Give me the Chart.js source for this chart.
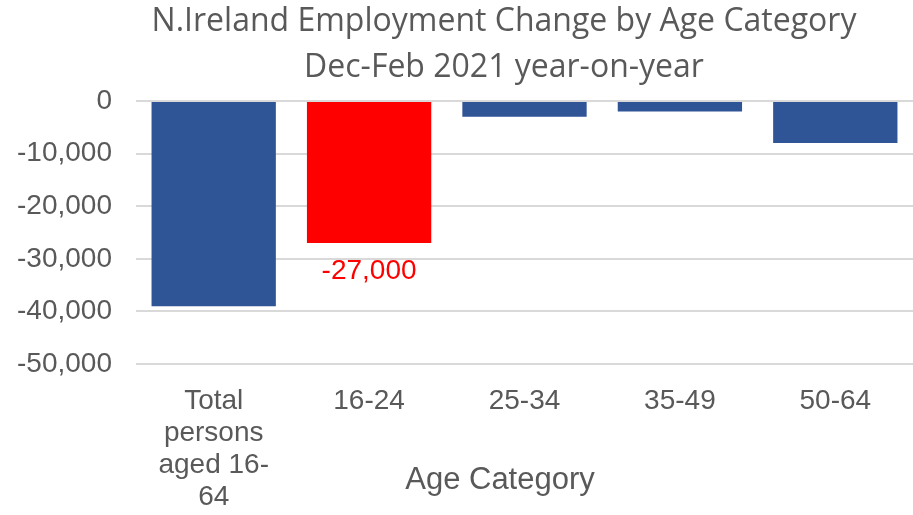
<!DOCTYPE html>
<html>
<head>
<meta charset="utf-8">
<script src="https://cdn.jsdelivr.net/npm/chart.js@4"></script>
<style>
  body { margin: 0; background: #fff; }
  #wrap { width: 913px; height: 515px; }
</style>
</head>
<body>
<div id="wrap"><canvas id="chart" width="913" height="515"></canvas></div>
<script>
const categories = [["Total", "persons", "aged 16-", "64"], "16-24", "25-34", "35-49", "50-64"];
const changeValues = [-39000, -27000, -3000, -2000, -8000];
const barColors = ["#2F5597", "#FF0000", "#2F5597", "#2F5597", "#2F5597"];
const labelledIndex = 1;
const titleLines = ["N.Ireland Employment Change by Age Category", "Dec-Feb 2021 year-on-year"];
const axisTitle = "Age Category";

const textColor = "#595959";
const sans = "'Liberation Sans', Arial, sans-serif";

// title, axis title and the single value label, placed like the excel original
const extraText = {
  id: "extraText",
  afterDraw(chart) {
    const ctx = chart.ctx;
    const area = chart.chartArea;
    ctx.save();
    ctx.textAlign = "center";
    ctx.textBaseline = "middle";

    ctx.fillStyle = textColor;
    ctx.font = "32px 'Open Sans', sans-serif";
    ctx.fillText(titleLines[0], 504, 22);
    ctx.fillText(titleLines[1], 504, 68);

    ctx.font = "31px " + sans;
    ctx.fillText(axisTitle, 500, area.bottom + 116);

    const bar = chart.getDatasetMeta(0).data[labelledIndex];
    ctx.fillStyle = "#FF0000";
    ctx.font = "28px " + sans;
    ctx.fillText(changeValues[labelledIndex].toLocaleString("en-US"), bar.x, bar.y + 28);
    ctx.restore();
  }
};

const config = {
  type: "bar",
  data: {
    labels: categories,
    datasets: [{
      data: changeValues,
      backgroundColor: barColors,
      categoryPercentage: 1,
      barPercentage: 0.8
    }]
  },
  options: {
    responsive: false,
    animation: false,
    layout: { padding: { left: 0, right: 0, top: 101, bottom: 0 } },
    plugins: {
      legend: { display: false },
      tooltip: { enabled: false },
      title: { display: false }
    },
    scales: {
      x: {
        afterFit: (scale) => { scale.height = 151; },
        grid: { display: false, drawTicks: false },
        border: { display: false },
        ticks: {
          color: textColor,
          font: { family: sans, size: 28, lineHeight: 1.15 },
          padding: 21,
          maxRotation: 0,
          autoSkip: false
        }
      },
      y: {
        min: -50000,
        max: 0,
        afterFit: (scale) => { scale.width = 136; },
        grid: { color: "#d9d9d9", lineWidth: 2, drawTicks: false },
        border: { display: false },
        ticks: {
          stepSize: 10000,
          color: textColor,
          padding: 24,
          font: { family: sans, size: 28 },
          callback: (v) => v.toLocaleString("en-US")
        }
      }
    }
  },
  plugins: [extraText]
};

new Chart(document.getElementById("chart"), config);
</script>
</body>
</html>
